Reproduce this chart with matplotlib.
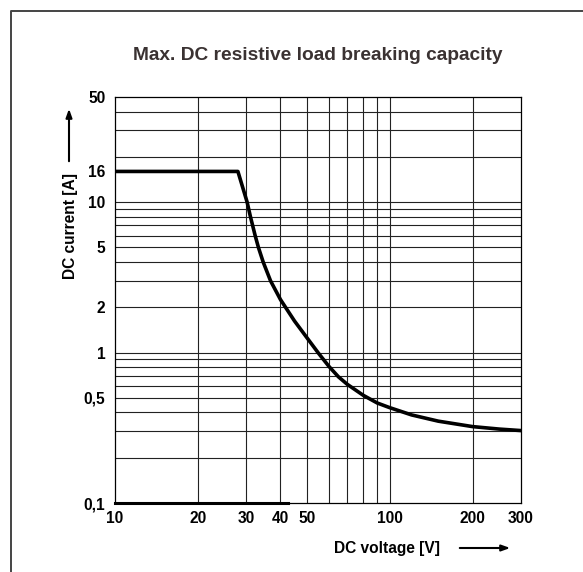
import matplotlib.pyplot as plt
from matplotlib.lines import Line2D

plt.rcParams['font.family'] = ['Liberation Sans', 'DejaVu Sans']
plt.rcParams['font.weight'] = 'bold'

# breaking capacity curve (V, A)
voltage = [10, 28, 30.25, 31.1, 32.35, 33.25, 34.6, 36.8, 40, 45, 50, 55, 60, 65, 70, 80, 90,
           100, 120, 150, 200, 250, 300]
current = [16, 16, 10, 8, 6, 5, 4, 3, 2.25, 1.62, 1.25, 0.99, 0.81, 0.69, 0.615, 0.52, 0.462,
           0.43, 0.385, 0.35, 0.322, 0.31, 0.303]

# thick segment along the bottom edge
base_x = [10, 42.5]
base_y = [0.1, 0.1]

x_ticks = [10, 20, 30, 40, 50, 100, 200, 300]
x_labels = ['10', '20', '30', '40', '50', '100', '200', '300']
y_ticks = [0.1, 0.5, 1, 2, 5, 10, 16, 50]
y_labels = ['0,1', '0,5', '1', '2', '5', '10', '16', '50']

x_grid = [20, 30, 40, 50, 60, 70, 80, 90, 100, 200]
y_grid = [0.2, 0.3, 0.4, 0.5, 0.6, 0.7, 0.8, 0.9, 1, 2, 3, 4, 5, 6, 7, 8, 9, 10, 20, 30, 40]

fig = plt.figure(figsize=(5.83, 5.72), dpi=100)
ax = fig.add_axes([115 / 583, 1 - 503 / 572, 406 / 583, 406 / 572])
ax.set_xscale('log')
ax.set_yscale('log')
ax.set_xlim(10, 300)
ax.set_ylim(0.1, 50)

ax.set_xticks(x_ticks, x_labels, fontsize=11.2, fontweight='bold')
ax.set_yticks(y_ticks, y_labels, fontsize=11.2, fontweight='bold')
ax.set_xticks(x_grid, minor=True)
ax.set_yticks(y_grid, minor=True)
ax.xaxis.remove_overlapping_locs = False
ax.yaxis.remove_overlapping_locs = False
ax.set_xticklabels([], minor=True)
ax.set_yticklabels([], minor=True)
ax.tick_params(which='both', length=0)
ax.tick_params(axis='x', pad=6)
ax.tick_params(axis='y', pad=7)
ax.grid(which='minor', color='#222222', linewidth=0.8)
ax.grid(which='major', visible=False)
for s in ax.spines.values():
    s.set_linewidth(0.9)

ax.plot(voltage, current, color='black', linewidth=2.6, solid_joinstyle='round', zorder=5)
ax.plot(base_x, base_y, color='black', linewidth=2.2, clip_on=False, zorder=5)

ax.set_title('Max. DC resistive load breaking capacity', fontsize=13.8, fontweight='bold',
             color='#3a3232', pad=27)

# axis labels with arrows
fig.text(440 / 583, 1 - 548 / 572, 'DC voltage [V]', ha='right', va='center',
         fontsize=11.2, fontweight='bold')
ax.annotate('', xy=(513 / 583, 1 - 548 / 572), xytext=(457 / 583, 1 - 548 / 572),
            xycoords='figure fraction',
            arrowprops=dict(arrowstyle='-|>,head_length=0.5,head_width=0.18', color='black', lw=1.5))
fig.text(70 / 583, 1 - 226 / 572, 'DC current [A]', ha='center', va='center',
         rotation=90, fontsize=11.2, fontweight='bold')
ax.annotate('', xy=(69 / 583, 1 - 106 / 572), xytext=(69 / 583, 1 - 164 / 572),
            xycoords='figure fraction',
            arrowprops=dict(arrowstyle='-|>,head_length=0.5,head_width=0.18', color='black', lw=1.5))

# outer frame (top and left edges)
fig.add_artist(Line2D([11 / 583, 11 / 583, 1], [0, 1 - 11 / 572, 1 - 11 / 572],
                      transform=fig.transFigure, color='#444444', linewidth=1.4))

fig.savefig('out.png', dpi=100)
